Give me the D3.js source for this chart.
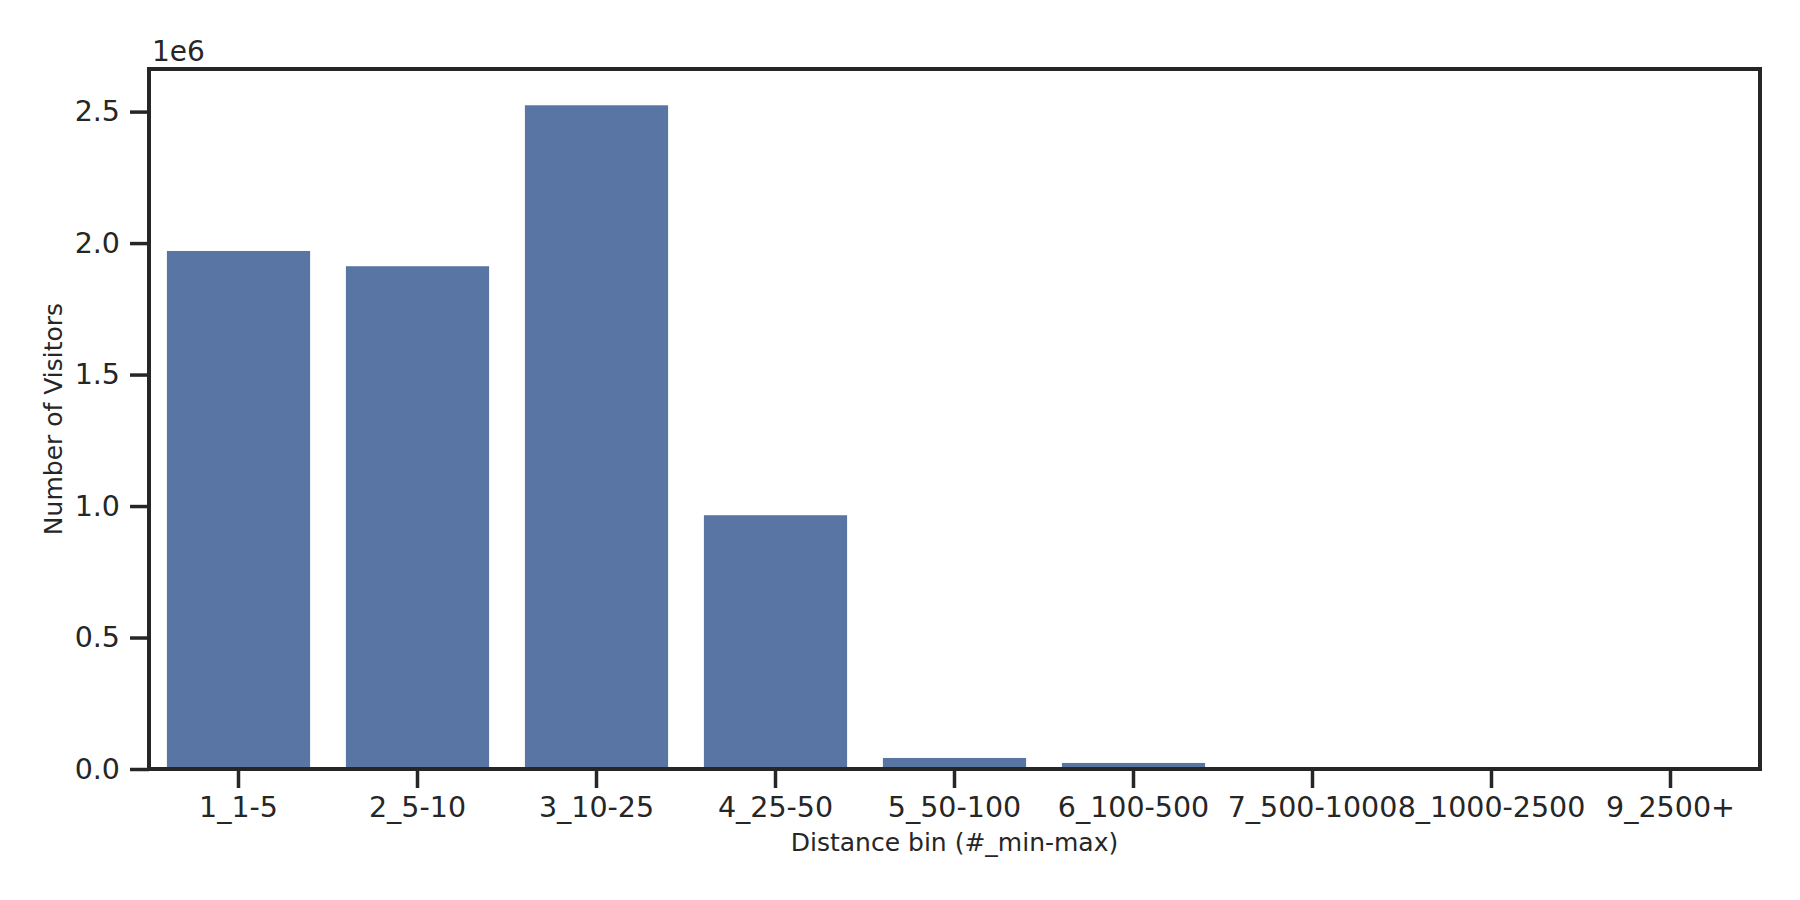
<!DOCTYPE html>
<html>
<head>
<meta charset="utf-8">
<script src="https://cdn.jsdelivr.net/npm/d3@7/dist/d3.min.js"></script>
<style>
  html, body { margin: 0; padding: 0; background: #fff; }
  svg { display: block; font-family: "DejaVu Sans", sans-serif; }
</style>
</head>
<body>
<svg id="chart" width="1800" height="900"></svg>
<script>
const categories = ["1_1-5", "2_5-10", "3_10-25", "4_25-50", "5_50-100", "6_100-500", "7_500-1000", "8_1000-2500", "9_2500+"];
const visitors = [1970000, 1912000, 2524000, 965000, 42000, 23000, 1500, 400, 100];
const yTicks = [0, 500000, 1000000, 1500000, 2000000, 2500000];
const yTickLabels = ["0.0", "0.5", "1.0", "1.5", "2.0", "2.5"];
const yMax = 2662000;

const W = 1800, H = 900;
const margin = { left: 149, right: 40, top: 69, bottom: 131 };
const innerW = W - margin.left - margin.right;
const innerH = H - margin.top - margin.bottom;
const textColor = "#262626";

const svg = d3.select("#chart");
const g = svg.append("g").attr("transform", `translate(${margin.left},${margin.top})`);

const x = d3.scaleBand().domain(categories).range([0, innerW]).paddingInner(0.2).paddingOuter(0.1);
const y = d3.scaleLinear().domain([0, yMax]).range([innerH, 0]);

// bars
g.selectAll("rect.bar").data(categories.map((c, i) => ({ c, v: visitors[i] })))
  .enter().append("rect")
  .attr("class", "bar")
  .attr("x", d => x(d.c))
  .attr("width", x.bandwidth())
  .attr("y", d => y(d.v))
  .attr("height", d => innerH - y(d.v))
  .attr("fill", "#5975a4");

// x axis
const xAxis = g.append("g").attr("transform", `translate(0,${innerH})`)
  .call(d3.axisBottom(x).tickSize(19).tickPadding(9).tickSizeOuter(0));
xAxis.select(".domain").remove();
xAxis.selectAll(".tick line").attr("stroke", textColor).attr("stroke-width", 3.5);
xAxis.selectAll(".tick text").attr("fill", textColor).attr("font-size", 28.5)
  .attr("font-family", "DejaVu Sans");

// y axis
const yAxis = g.append("g")
  .call(d3.axisLeft(y).tickValues(yTicks).tickFormat((d, i) => yTickLabels[i]).tickSize(19).tickPadding(10).tickSizeOuter(0));
yAxis.select(".domain").remove();
yAxis.selectAll(".tick line").attr("stroke", textColor).attr("stroke-width", 3.5);
yAxis.selectAll(".tick text").attr("fill", textColor).attr("font-size", 28.5)
  .attr("font-family", "DejaVu Sans");

// frame
g.append("rect").attr("x", 0).attr("y", 0).attr("width", innerW).attr("height", innerH)
  .attr("fill", "none").attr("stroke", textColor).attr("stroke-width", 4);

// offset text
g.append("text").attr("x", 3).attr("y", -8).attr("fill", textColor)
  .attr("font-size", 28).text("1e6");

// axis labels
svg.append("text").attr("x", margin.left + innerW / 2).attr("y", 851)
  .attr("text-anchor", "middle").attr("fill", textColor).attr("font-size", 25)
  .text("Distance bin (#_min-max)");
svg.append("text")
  .attr("transform", `translate(62,${margin.top + innerH / 2}) rotate(-90)`)
  .attr("text-anchor", "middle").attr("fill", textColor).attr("font-size", 25)
  .text("Number of Visitors");
</script>
</body>
</html>
